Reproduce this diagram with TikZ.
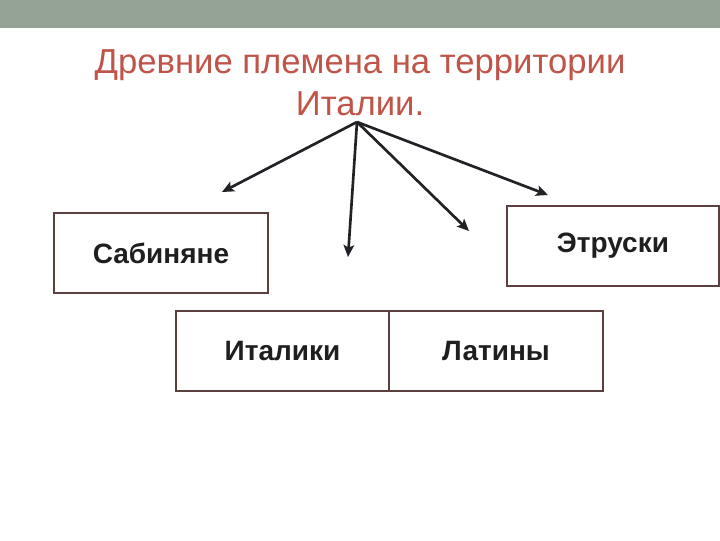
\documentclass[tikz,border=0pt]{standalone}
\usepackage{fontspec}
\setmainfont{Liberation Sans}
\usetikzlibrary{arrows.meta}
\definecolor{barcol}{RGB}{148,163,150}
\definecolor{titlecol}{RGB}{192,84,72}
\definecolor{boxcol}{RGB}{92,64,64}
\definecolor{arrcol}{RGB}{34,34,38}
\tikzset{
  tribe/.style={draw=boxcol, line width=1.6pt, fill=white, font=\fontsize{21}{25}\selectfont\bfseries, text=black!88, inner sep=0pt},
  title/.style={text=titlecol, font=\fontsize{26}{31}\selectfont, inner sep=0pt, anchor=base},
  link/.style={draw=arrcol, line width=2pt, -{Stealth[length=9pt,width=8pt,inset=2pt]}}
}
\begin{document}
\begin{tikzpicture}[x=0.75pt,y=-0.75pt]
\useasboundingbox (0,0) rectangle (720,540);
\fill[white] (0,0) rectangle (720,540);
\fill[barcol] (0,0) rectangle (720,28);
\node[title] (t1) at (360,73) {Древние племена на территории};
\node[title] (t2) at (360,115) {Италии.};
\coordinate (o) at (357,122);
\node[tribe, minimum width=160.5pt, minimum height=60pt] (sab) at (161,253) {Сабиняне};
\node[tribe, minimum width=159pt, minimum height=60pt] (etr) at (613,246) {Этруски};
\node[tribe, minimum width=159.75pt, minimum height=60pt] (ita) at (282.5,351) {Италики};
\node[tribe, minimum width=160.5pt, minimum height=60pt] (lat) at (496,351) {Латины};
\coordinate (e1) at (222,192);
\coordinate (e2) at (348,257);
\coordinate (e3) at (469,231);
\coordinate (e4) at (548,195);
\draw[link] (o) -- (e1);
\draw[link] (o) -- (e2);
\draw[link] (o) -- (e3);
\draw[link] (o) -- (e4);
\end{tikzpicture}
\end{document}
